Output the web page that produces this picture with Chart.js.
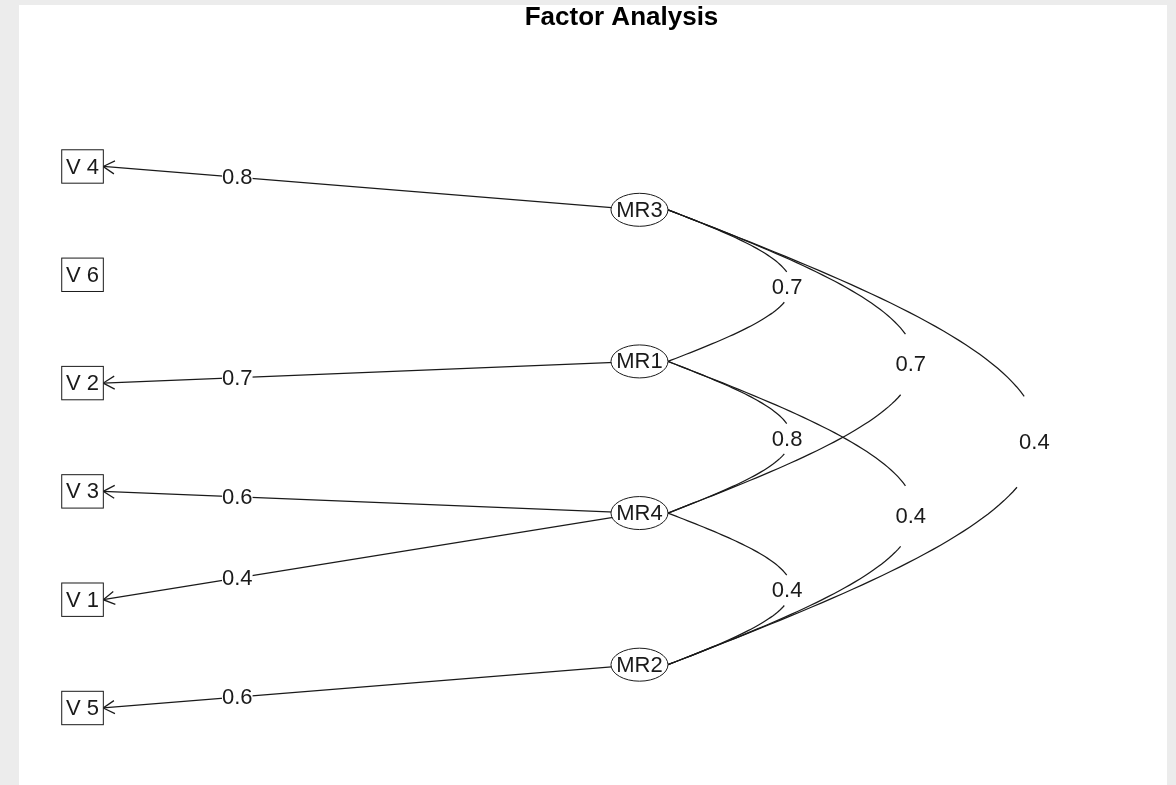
<!DOCTYPE html>
<html>
<head>
<meta charset="utf-8">
<title>Factor Analysis</title>
<script src="https://cdn.jsdelivr.net/npm/chart.js@4.4.0/dist/chart.umd.min.js"></script>
<style>
    html, body { margin: 0; padding: 0; }
    body { width: 1176px; height: 785px; background: #ececec; overflow: hidden; position: relative; }
    #panel { position: absolute; left: 19px; top: 5px; width: 1148px; height: 780px; background: #fff; }
    canvas { display: block; }
</style>
</head>
<body>
<div id="panel"><canvas id="fa-chart" width="1148" height="780"></canvas></div>
<script>
// Observed variables, top to bottom
const variables = ['V 4', 'V 6', 'V 2', 'V 3', 'V 1', 'V 5'];
// Factors, top to bottom
const factors = ['MR3', 'MR1', 'MR4', 'MR2'];

// Loadings that pass the cut
const loadingFactor = ['MR3', 'MR1', 'MR4', 'MR4', 'MR2'];
const loadingVariable = ['V 4', 'V 2', 'V 3', 'V 1', 'V 5'];
const loadingValue = [0.8, 0.7, 0.6, 0.4, 0.6];

// Factor intercorrelations
const corrFrom = ['MR3', 'MR3', 'MR3', 'MR1', 'MR1', 'MR4'];
const corrTo = ['MR1', 'MR4', 'MR2', 'MR4', 'MR2', 'MR2'];
const corrValue = [0.7, 0.7, 0.4, 0.8, 0.4, 0.4];

// Layout in diagram units (same scheme as psych::fa.diagram)
const nVar = variables.length;
const nFac = factors.length;
const facX = (nVar + 1) / 2;
const facStep = (nVar + 1) / (nFac + 1);
const varY = name => nVar - variables.indexOf(name);
const facY = name => (nFac - factors.indexOf(name)) * facStep;

// Styling
const FONT = '"Liberation Sans", Arial, Helvetica, sans-serif';
const INK = '#1a1a1a';
const BOX = { w: 41.6, h: 33.4 };
const ELL = { rx: 28.5, ry: 16.5 };
const BOX_HALF = 0.13;      // half box width, x units (arrow tips stop here)
const CURVE_BULGE = 0.777;  // curve reach per factor step, x units
const LABEL_AT = 0.25;      // loading label position, from the arrow tip

const datasets = [
    {
        label: 'variables',
        data: variables.map(v => ({ x: 0, y: varY(v) })),
        pointRadius: 0,
        showLine: false
    },
    {
        label: 'factors',
        data: factors.map(f => ({ x: facX, y: facY(f) })),
        pointRadius: 0,
        showLine: false
    }
];

loadingValue.forEach((val, i) => {
    datasets.push({
        label: 'loading ' + loadingFactor[i] + ' ' + loadingVariable[i],
        data: [
            { x: facX, y: facY(loadingFactor[i]) },
            { x: BOX_HALF, y: varY(loadingVariable[i]) }
        ],
        showLine: true,
        borderColor: INK,
        borderWidth: 1.25,
        pointRadius: 0,
        fill: false,
        clip: false
    });
});

/**
 * Draws the correlation curves, arrow heads, value labels and the nodes
 */
const diagramPlugin = {
    id: 'faDiagram',
    afterDatasetsDraw(chart) {
        const ctx = chart.ctx;
        const xs = chart.scales.x;
        const unitX = xs.getPixelForValue(1) - xs.getPixelForValue(0);
        const varPts = chart.getDatasetMeta(0).data;
        const facPts = chart.getDatasetMeta(1).data;

        ctx.save();
        ctx.strokeStyle = INK;
        ctx.lineWidth = 1.25;
        ctx.font = '22px ' + FONT;
        ctx.textAlign = 'center';
        ctx.textBaseline = 'middle';

        // factor correlations: half-sine curves with a gap for the value
        corrValue.forEach((val, i) => {
            const ia = factors.indexOf(corrFrom[i]);
            const ib = factors.indexOf(corrTo[i]);
            const steps = Math.abs(ib - ia);
            const a = facPts[ia];
            const b = facPts[ib];
            const x0 = a.x + ELL.rx;
            const bulge = steps * CURVE_BULGE * unitX;
            const at = t => [x0 + bulge * Math.sin(Math.PI * t), a.y + (b.y - a.y) * t];

            [[0, 0.41], [0.61, 1]].forEach(([t0, t1]) => {
                ctx.beginPath();
                for (let k = 0; k <= 40; k++) {
                    const [px, py] = at(t0 + (t1 - t0) * k / 40);
                    if (k === 0) ctx.moveTo(px, py); else ctx.lineTo(px, py);
                }
                ctx.stroke();
            });

            ctx.fillStyle = INK;
            ctx.fillText(val.toFixed(1), x0 + bulge - 4.5, (a.y + b.y) / 2 + 0.7 + 1.6 * steps);
        });

        // loadings: arrow heads and labels
        loadingValue.forEach((val, i) => {
            const pts = chart.getDatasetMeta(2 + i).data;
            const from = pts[0];
            const tip = pts[1];
            const back = Math.atan2(from.y - tip.y, from.x - tip.x);
            const len = 13;
            const spread = Math.PI / 6;

            ctx.beginPath();
            ctx.moveTo(tip.x + len * Math.cos(back + spread), tip.y + len * Math.sin(back + spread));
            ctx.lineTo(tip.x, tip.y);
            ctx.lineTo(tip.x + len * Math.cos(back - spread), tip.y + len * Math.sin(back - spread));
            ctx.stroke();

            const lx = tip.x + (from.x - tip.x) * LABEL_AT;
            const ly = tip.y + (from.y - tip.y) * LABEL_AT;
            const text = val.toFixed(1);
            const w = ctx.measureText(text).width;
            ctx.fillStyle = '#fff';
            ctx.fillRect(lx - w / 2, ly - 9, w, 18);
            ctx.fillStyle = INK;
            ctx.fillText(text, lx, ly + 1);
        });

        // variable boxes
        ctx.lineWidth = 1;
        varPts.forEach((p, i) => {
            ctx.fillStyle = '#fff';
            ctx.fillRect(p.x - BOX.w / 2, p.y - BOX.h / 2, BOX.w, BOX.h);
            ctx.strokeRect(p.x - BOX.w / 2, p.y - BOX.h / 2, BOX.w, BOX.h);
            ctx.fillStyle = INK;
            ctx.fillText(variables[i], p.x, p.y + 1);
        });

        // factor ellipses
        facPts.forEach((p, i) => {
            ctx.beginPath();
            ctx.ellipse(p.x, p.y, ELL.rx, ELL.ry, 0, 0, Math.PI * 2);
            ctx.fillStyle = '#fff';
            ctx.fill();
            ctx.stroke();
            ctx.fillStyle = INK;
            ctx.fillText(factors[i], p.x, p.y + 1);
        });

        ctx.restore();
    }
};

new Chart(document.getElementById('fa-chart'), {
    type: 'scatter',
    data: { datasets: datasets },
    options: {
        responsive: false,
        animation: false,
        events: [],
        layout: { padding: { left: 57, right: 0, top: 0, bottom: 0 } },
        plugins: {
            legend: { display: false },
            tooltip: { enabled: false },
            title: {
                display: true,
                text: 'Factor Analysis',
                color: '#000',
                font: { family: FONT, size: 26, weight: 'bold', lineHeight: 0.85 },
                padding: { top: 1.5, bottom: 6.4 }
            }
        },
        scales: {
            x: { type: 'linear', display: false, min: -0.041, max: 6.815 },
            y: { type: 'linear', display: false, min: 0.289, max: 7.214 }
        }
    },
    plugins: [diagramPlugin]
});
</script>
</body>
</html>
